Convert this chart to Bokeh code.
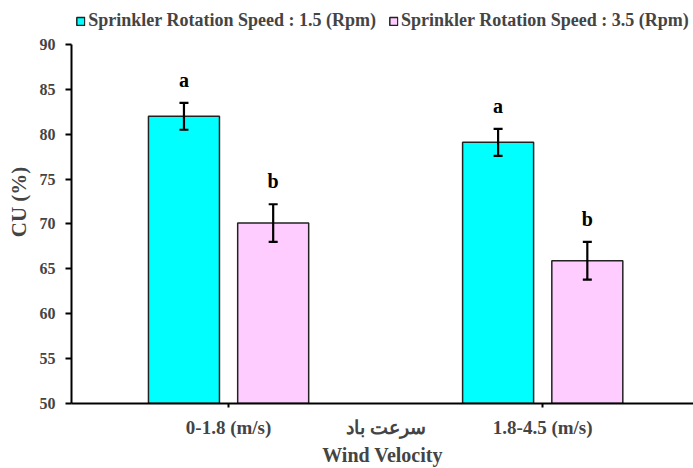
from bokeh.plotting import figure
from bokeh.models import (ColumnDataSource, Whisker, TeeHead, Legend, LegendItem,
                          Range1d, FixedTicker)
from bokeh.core.properties import value
from bokeh.embed import file_html
from bokeh.resources import INLINE

categories = ["0-1.8 (m/s)", "1.8-4.5 (m/s)"]
group_label_fa = "سرعت باد"
x_title = "Wind Velocity"
y_title = "CU (%)"
series_names = ["Sprinkler Rotation Speed : 1.5 (Rpm)", "Sprinkler Rotation Speed : 3.5 (Rpm)"]
cu_15 = [82.0, 79.1]
cu_35 = [70.1, 65.9]
err_15 = [1.5, 1.5]
err_35 = [2.1, 2.1]
letters_15 = ["a", "a"]
letters_35 = ["b", "b"]
colors = ["#00FFFF", "#FFCCFF"]
y_ticks = [50, 55, 60, 65, 70, 75, 80, 85, 90]

FONT = "Liberation Serif"
centers = [0.5 + i for i in range(len(categories))]
mid = sum(centers) / len(centers)
offset = 0.142
bw = 0.226

p = figure(width=693, height=468, output_backend="svg", toolbar_location=None,
           x_range=Range1d(0, 1.98), y_range=Range1d(50, 94.9),
           min_border_left=71, min_border_right=0, min_border_top=0, min_border_bottom=0)
p.outline_line_color = None
p.xgrid.grid_line_color = None
p.ygrid.grid_line_color = None
p.background_fill_color = "white"
p.border_fill_color = "white"

renderers = []
for vals, errs, letters, col, sign in [(cu_15, err_15, letters_15, colors[0], -1),
                                       (cu_35, err_35, letters_35, colors[1], 1)]:
    xs = [c + sign * offset for c in centers]
    src = ColumnDataSource(dict(x=xs, top=vals, upper=[v + e for v, e in zip(vals, errs)],
                                lower=[v - e for v, e in zip(vals, errs)], lab=letters))
    r = p.vbar(x="x", top="top", bottom=50, width=bw, source=src, fill_color=col,
               line_color="#222222", line_width=1.5)
    renderers.append(r)
    w = Whisker(base="x", upper="upper", lower="lower", source=src, level="overlay",
                line_width=2.2, line_color="black",
                upper_head=TeeHead(size=9, line_width=2.2, line_color="black"),
                lower_head=TeeHead(size=9, line_width=2.2, line_color="black"))
    p.add_layout(w)
    p.text(x="x", y="upper", text="lab", source=src, text_align="center",
           text_baseline="bottom", y_offset=-12, text_font=value(FONT),
           text_font_style="bold", text_font_size="20px", text_color="black")

# y axis
p.yaxis.ticker = FixedTicker(ticks=y_ticks)
p.yaxis.bounds = (50, 90)
p.yaxis.axis_label = y_title
p.yaxis.axis_label_text_font = FONT
p.yaxis.axis_label_text_font_style = "bold"
p.yaxis.axis_label_text_font_size = "21px"
p.yaxis.axis_label_standoff = 6
p.yaxis.major_label_text_font = FONT
p.yaxis.major_label_text_font_style = "bold"
p.yaxis.major_label_text_font_size = "16px"
p.yaxis.major_label_standoff = 10
p.yaxis.major_tick_out = 6
p.yaxis.major_tick_in = 0
p.yaxis.minor_tick_line_color = None
p.yaxis.axis_line_width = 2
p.yaxis.major_tick_line_width = 2

# x axis: category labels + the Persian group label in the middle
p.xaxis.ticker = FixedTicker(ticks=centers + [mid], minor_ticks=centers)
overrides = {c: n for c, n in zip(centers, categories)}
overrides[mid] = group_label_fa
p.xaxis.major_label_overrides = overrides
p.xaxis.major_label_text_font = FONT
p.xaxis.major_label_text_font_style = "bold"
p.xaxis.major_label_text_font_size = "19px"
p.xaxis.major_label_standoff = 9
p.xaxis.major_tick_line_color = None
p.xaxis.major_tick_out = 4
p.xaxis.major_tick_in = 0
p.xaxis.minor_tick_out = 4
p.xaxis.minor_tick_in = 0
p.xaxis.minor_tick_line_width = 2
p.xaxis.minor_tick_line_color = "black"
p.xaxis.axis_line_width = 2
p.xaxis.axis_label = x_title
p.xaxis.axis_label_text_font = FONT
p.xaxis.axis_label_text_font_style = "bold"
p.xaxis.axis_label_text_font_size = "20px"
p.xaxis.axis_label_standoff = 3

legend = Legend(items=[LegendItem(label=series_names[i], renderers=[renderers[i]]) for i in range(2)],
                orientation="horizontal", location="top_center",
                label_text_font=FONT, label_text_font_style="bold", label_text_font_size="18px",
                glyph_width=10, glyph_height=10, spacing=12, label_standoff=3,
                border_line_color=None, background_fill_alpha=0, padding=3, margin=10)
p.add_layout(legend)

open("out.html", "w").write(file_html(p, INLINE))
